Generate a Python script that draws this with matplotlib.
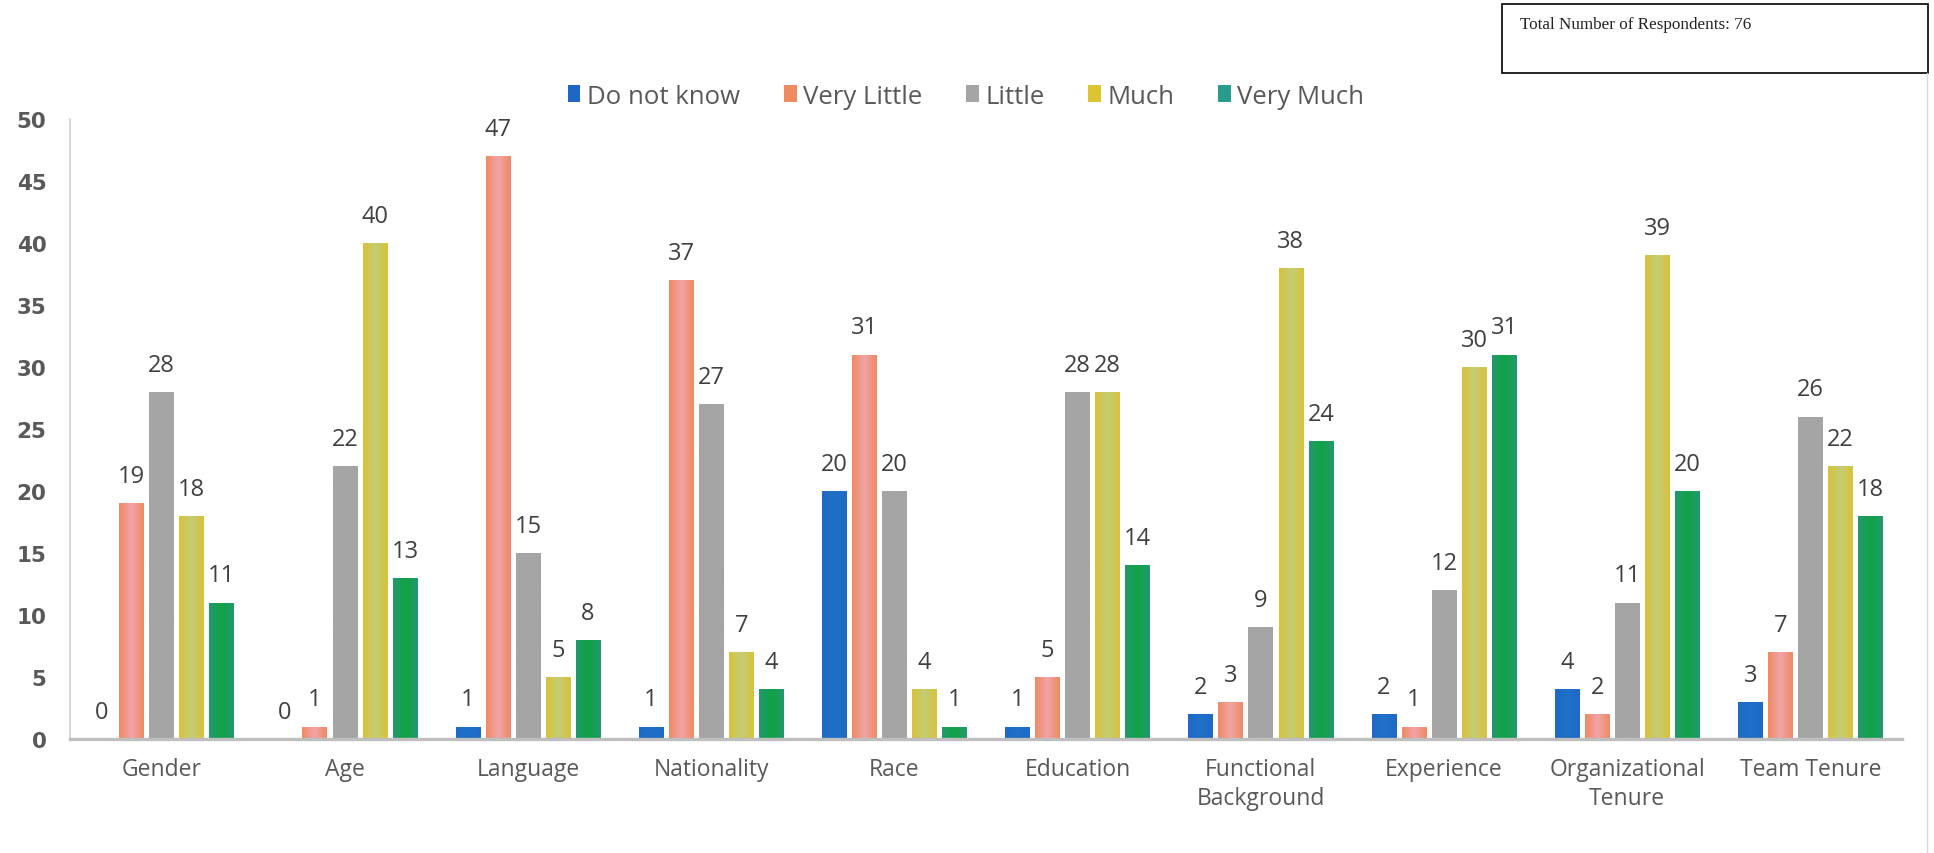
import numpy as np
import matplotlib
matplotlib.use("Agg")
import matplotlib.pyplot as plt
from matplotlib.colors import LinearSegmentedColormap
from matplotlib.patches import Patch, Rectangle
from matplotlib.lines import Line2D

# survey data
categories = ["Gender", "Age", "Language", "Nationality", "Race", "Education",
              "Functional\nBackground", "Experience", "Organizational\nTenure", "Team Tenure"]
series_names = ["Do not know", "Very Little", "Little", "Much", "Very Much"]
do_not_know = [0, 0, 1, 1, 20, 1, 2, 2, 4, 3]
very_little = [19, 1, 47, 37, 31, 5, 3, 1, 2, 7]
little = [28, 22, 15, 27, 20, 28, 9, 12, 11, 26]
much = [18, 40, 5, 7, 4, 28, 38, 30, 39, 22]
very_much = [11, 13, 8, 4, 1, 14, 24, 31, 20, 18]
respondents = 76

series = [do_not_know, very_little, little, much, very_much]
# (edge colour, centre colour) for the shaded bars
fills = [("#1E6AC4", "#1F70C8"),
         ("#EF8A62", "#F1A4A8"),
         ("#A5A5A5", "#A5A5A5"),
         ("#D8C23C", "#C4CD74"),
         ("#23996F", "#10A244")]
legend_colors = ["#2066C4", "#EE8B60", "#A5A5A5", "#DDC432", "#2A9C8C"]

txt = "#595959"
fig = plt.figure(figsize=(19.34, 8.54), dpi=100)
ax = fig.add_axes([0.0362, 0.1335, 0.9472, 0.726])

x = np.arange(len(categories))
step = 0.164
width = 0.134
for j, vals in enumerate(series):
    edge, center = fills[j]
    cmap = LinearSegmentedColormap.from_list("g%d" % j, [edge, center, edge])
    pos = x + (j - 2) * step
    bars = ax.bar(pos, vals, width, color="none", linewidth=0)
    for b, v, p in zip(bars, vals, pos):
        if v > 0:
            im = ax.imshow(np.linspace(0, 1, 64)[None, :], cmap=cmap, aspect="auto",
                           extent=(p - width / 2, p + width / 2, 0, v), zorder=2)
            im.set_clip_path(b)
        ax.annotate(str(v), (p, v), xytext=(0, 11), textcoords="offset points",
                    ha="center", va="bottom", fontsize=17, color="#404040",
                    family="Open Sans")

ax.set_xlim(-0.5, len(categories) - 0.5)
ax.set_ylim(0, 50)
ax.set_yticks(range(0, 51, 5))
ax.set_yticklabels([str(v) for v in range(0, 51, 5)], fontsize=15.5,
                   fontweight="bold", color=txt, family="DejaVu Sans")
ax.set_xticks(x)
ax.set_xticklabels(categories, fontsize=16.5, color=txt, family="Open Sans", linespacing=1.3)
ax.tick_params(axis="y", length=0, pad=17)
ax.tick_params(axis="x", length=0, pad=13)

for s in ["top", "right"]:
    ax.spines[s].set_visible(False)
ax.spines["bottom"].set_color("#BFBFBF")
ax.spines["bottom"].set_linewidth(2.4)
ax.spines["left"].set_color("#D0D0D0")
ax.spines["left"].set_linewidth(1.2)

handles = [Patch(facecolor=c, edgecolor="none") for c in legend_colors]
fig.legend(handles, series_names, loc="center", bbox_to_anchor=(966 / 1934, 1 - 97 / 854), ncol=5,
           frameon=False, prop={"family": "Open Sans", "size": 18.5},
           labelcolor=txt, handlelength=0.5, handleheight=0.65, handletextpad=0.25,
           columnspacing=1.7)

# respondent count box
fig.patches.append(Rectangle((1502 / 1934, 1 - 74 / 854), 426 / 1934, 69 / 854,
                             transform=fig.transFigure, facecolor="white",
                             edgecolor="black", linewidth=1.2))
fig.text(1520 / 1934, 1 - 25 / 854, "Total Number of Respondents: %d" % respondents,
         family="Liberation Serif", fontsize=12.3, color="#222222", va="center")
fig.add_artist(Line2D([1927 / 1934, 1927 / 1934], [0, 1 - 74 / 854],
                      transform=fig.transFigure, color="#D9D9D9", linewidth=1))

fig.savefig("out.png", dpi=100)
